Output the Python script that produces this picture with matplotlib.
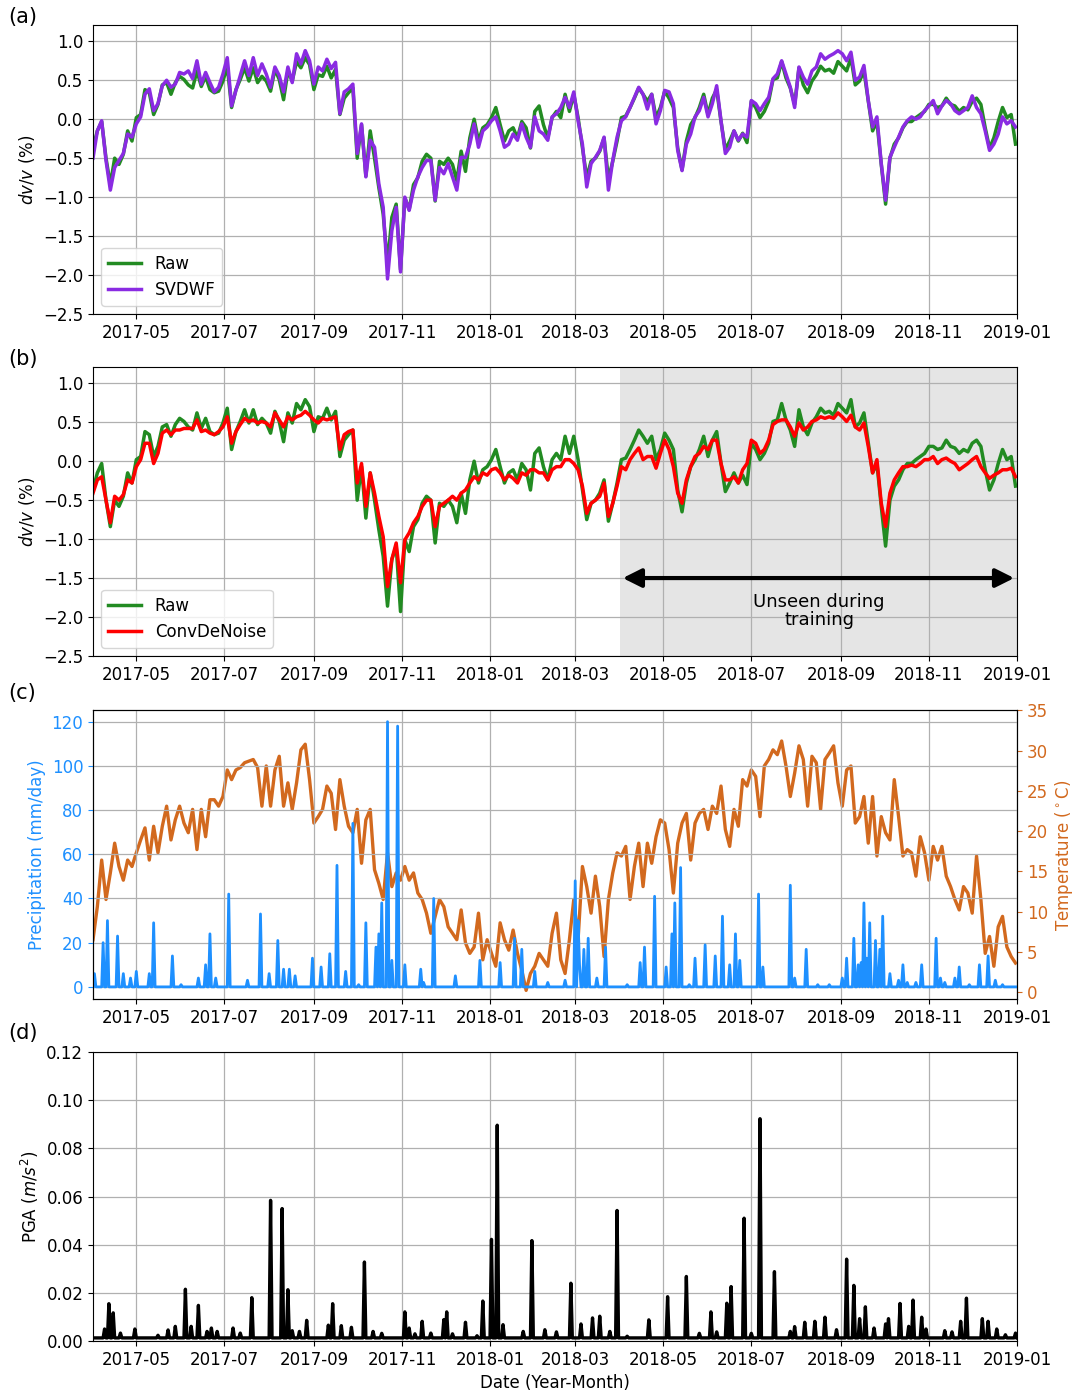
import numpy as np
import pandas as pd
import matplotlib
matplotlib.use('Agg')
import matplotlib.pyplot as plt
import matplotlib.dates as mdates

# time axis
start = pd.Timestamp('2017-04-01')
end = pd.Timestamp('2019-01-01')
unseen_start = pd.Timestamp('2018-04-01')

# dv/v (%) sampled every 3 days from 2017-04-01
raw = [
    -0.37, -0.15, -0.03, -0.5, -0.84, -0.5, -0.58, -0.45, -0.15, -0.28,
    0.02, 0.06, 0.38, 0.34, 0.06, 0.19, 0.44, 0.47, 0.32, 0.47,
    0.55, 0.51, 0.44, 0.4, 0.62, 0.42, 0.55, 0.38, 0.34, 0.36,
    0.49, 0.68, 0.15, 0.38, 0.51, 0.66, 0.49, 0.66, 0.47, 0.55,
    0.49, 0.36, 0.64, 0.51, 0.25, 0.62, 0.49, 0.74, 0.66, 0.79,
    0.7, 0.38, 0.57, 0.55, 0.68, 0.53, 0.64, 0.06, 0.27, 0.34,
    0.4, -0.5, -0.07, -0.73, -0.15, -0.5, -0.88, -1.22, -1.86, -1.26,
    -1.09, -1.93, -1.01, -1.16, -0.84, -0.75, -0.54, -0.45, -0.5, -1.05,
    -0.54, -0.58, -0.5, -0.58, -0.79, -0.41, -0.67, -0.24, 0.0, -0.28,
    -0.11, -0.07, 0.02, 0.15, -0.07, -0.28, -0.15, -0.11, -0.24, -0.03,
    -0.11, -0.37, 0.1, 0.17, -0.07, -0.24, 0.02, 0.1, 0.02, 0.32,
    0.1, 0.32, 0.02, -0.37, -0.75, -0.54, -0.5, -0.41, -0.24, -0.77,
    -0.54, -0.28, 0.02, 0.04, 0.15, 0.27, 0.4, 0.32, 0.23, 0.32,
    0.02, 0.15, 0.36, 0.27, 0.15, -0.37, -0.65, -0.28, -0.07, 0.02,
    0.15, 0.32, 0.06, 0.27, 0.38, -0.03, -0.39, -0.28, -0.15, -0.28,
    -0.18, -0.3, 0.23, 0.15, 0.02, 0.1, 0.23, 0.51, 0.53, 0.74,
    0.53, 0.4, 0.19, 0.66, 0.44, 0.34, 0.49, 0.57, 0.68, 0.62,
    0.64, 0.59, 0.74, 0.68, 0.62, 0.79, 0.44, 0.49, 0.62, 0.23,
    -0.15, -0.03, -0.58, -1.09, -0.5, -0.32, -0.24, -0.11, -0.03, -0.03,
    0.02, 0.06, 0.1, 0.19, 0.19, 0.15, 0.17, 0.27, 0.19, 0.17,
    0.1, 0.15, 0.12, 0.23, 0.27, 0.19, -0.11, -0.37, -0.24, -0.03,
    0.15, 0.02, 0.06, -0.32,
]
svdwf = [
    -0.5, -0.15, -0.02, -0.53, -0.91, -0.62, -0.53, -0.44, -0.19, -0.23,
    -0.06, 0.03, 0.32, 0.39, 0.11, 0.2, 0.43, 0.5, 0.41, 0.45,
    0.6, 0.58, 0.62, 0.52, 0.75, 0.45, 0.6, 0.47, 0.35, 0.41,
    0.58, 0.79, 0.17, 0.37, 0.56, 0.75, 0.56, 0.79, 0.56, 0.71,
    0.58, 0.41, 0.67, 0.56, 0.35, 0.67, 0.47, 0.84, 0.71, 0.88,
    0.75, 0.45, 0.67, 0.62, 0.77, 0.65, 0.73, 0.07, 0.35, 0.39,
    0.45, -0.44, -0.06, -0.74, -0.27, -0.36, -0.83, -1.13, -2.05, -1.43,
    -1.13, -1.96, -1.0, -1.17, -0.91, -0.74, -0.62, -0.53, -0.53, -1.04,
    -0.62, -0.7, -0.57, -0.74, -0.91, -0.49, -0.49, -0.32, -0.06, -0.36,
    -0.15, -0.1, -0.02, 0.03, -0.15, -0.36, -0.32, -0.19, -0.27, -0.06,
    -0.23, -0.36, 0.03, -0.15, -0.19, -0.27, 0.03, 0.07, 0.15, 0.28,
    0.15, 0.35, -0.02, -0.32, -0.87, -0.57, -0.49, -0.4, -0.23, -0.91,
    -0.53, -0.23, -0.02, 0.03, 0.15, 0.28, 0.41, 0.32, 0.13, 0.32,
    -0.06, 0.11, 0.37, 0.35, 0.2, -0.4, -0.66, -0.32, -0.19, 0.03,
    0.11, 0.28, 0.03, 0.2, 0.43, -0.02, -0.44, -0.36, -0.15, -0.27,
    -0.19, -0.23, 0.24, 0.2, 0.11, 0.2, 0.28, 0.52, 0.58, 0.75,
    0.58, 0.41, 0.15, 0.67, 0.54, 0.45, 0.62, 0.67, 0.84, 0.77,
    0.81, 0.84, 0.88, 0.84, 0.75, 0.86, 0.5, 0.54, 0.69, 0.24,
    -0.1, 0.03, -0.57, -1.04, -0.49, -0.36, -0.23, -0.1, -0.02, 0.03,
    0.0, 0.03, 0.11, 0.17, 0.24, 0.07, 0.17, 0.24, 0.2, 0.11,
    0.07, 0.11, 0.15, 0.3, 0.15, 0.07, -0.15, -0.4, -0.32, -0.19,
    0.03, -0.06, -0.02, -0.1,
]
convdenoise = [
    -0.41, -0.24, -0.2, -0.5, -0.79, -0.45, -0.5, -0.43, -0.24, -0.28,
    -0.07, 0.02, 0.23, 0.23, -0.03, 0.1, 0.36, 0.4, 0.34, 0.4,
    0.4, 0.42, 0.42, 0.42, 0.53, 0.38, 0.4, 0.36, 0.34, 0.38,
    0.44, 0.57, 0.23, 0.38, 0.47, 0.55, 0.51, 0.53, 0.49, 0.51,
    0.49, 0.44, 0.62, 0.53, 0.44, 0.57, 0.53, 0.57, 0.59, 0.64,
    0.59, 0.53, 0.49, 0.55, 0.53, 0.55, 0.57, 0.15, 0.34, 0.38,
    0.4, -0.28, -0.03, -0.58, -0.15, -0.41, -0.71, -0.97, -1.61, -1.26,
    -1.05, -1.56, -1.01, -0.92, -0.79, -0.71, -0.58, -0.5, -0.5, -0.84,
    -0.58, -0.54, -0.5, -0.45, -0.5, -0.41, -0.37, -0.28, -0.2, -0.24,
    -0.15, -0.18, -0.11, -0.09, -0.15, -0.24, -0.18, -0.22, -0.28, -0.15,
    -0.18, -0.11, -0.11, -0.15, -0.15, -0.24, -0.11, -0.07, -0.07, 0.02,
    0.02, -0.03, -0.11, -0.32, -0.67, -0.54, -0.5, -0.45, -0.28, -0.71,
    -0.54, -0.32, -0.07, -0.11, 0.02, 0.1, 0.17, 0.02, 0.06, 0.06,
    -0.09, 0.1, 0.27, 0.15, -0.07, -0.41, -0.54, -0.24, -0.07, 0.06,
    0.1, 0.19, 0.15, 0.27, 0.27, -0.03, -0.24, -0.24, -0.2, -0.28,
    -0.11, -0.03, 0.27, 0.23, 0.1, 0.15, 0.27, 0.47, 0.51, 0.53,
    0.53, 0.44, 0.32, 0.49, 0.4, 0.44, 0.51, 0.53, 0.57, 0.55,
    0.57, 0.55, 0.62, 0.57, 0.51, 0.59, 0.44, 0.4, 0.49, 0.19,
    -0.15, 0.02, -0.54, -0.84, -0.41, -0.24, -0.15, -0.07, -0.07, -0.05,
    -0.07, -0.03, 0.02, 0.02, 0.06, -0.03, 0.02, 0.04, 0.0, -0.03,
    -0.11, -0.07, -0.03, 0.02, 0.06, -0.07, -0.15, -0.22, -0.18, -0.15,
    -0.11, -0.11, -0.09, -0.2,
]
# air temperature (deg C), same 3-day sampling
temperature = [
    6.5, 10.6, 16.4, 11.5, 14.8, 18.5, 15.6, 13.9, 16.4, 15.6,
    17.3, 18.9, 20.4, 16.4, 20.6, 17.3, 20.6, 23.1, 18.9, 21.4,
    23.1, 21.0, 19.8, 22.7, 17.7, 22.7, 19.3, 23.9, 23.9, 23.1,
    24.3, 27.6, 26.4, 27.6, 27.9, 28.5, 28.7, 28.9, 27.9, 23.1,
    28.1, 23.1, 27.6, 29.3, 23.1, 26.0, 22.7, 26.0, 30.1, 30.8,
    26.4, 21.0, 21.8, 22.7, 25.6, 24.7, 20.2, 26.4, 23.1, 20.6,
    19.8, 22.7, 16.0, 21.4, 22.7, 15.2, 13.5, 11.5, 17.3, 13.1,
    14.8, 13.9, 15.6, 13.9, 14.8, 12.3, 11.5, 9.8, 7.3, 9.4,
    11.5, 10.6, 8.1, 7.3, 6.5, 10.2, 6.1, 4.8, 5.6, 9.8,
    4.0, 6.5, 4.8, 3.2, 8.6, 6.5, 5.2, 7.7, 4.8, 2.7,
    0.2, 2.3, 3.2, 4.8, 4.0, 3.2, 7.3, 9.8, 4.0, 2.3,
    6.5, 11.5, 6.5, 15.6, 13.1, 9.8, 14.4, 10.6, 4.4, 11.5,
    14.8, 17.3, 16.9, 18.1, 11.5, 15.6, 18.5, 13.1, 18.5, 16.0,
    19.3, 21.4, 21.0, 17.7, 12.3, 18.5, 21.0, 22.2, 16.4, 21.0,
    22.2, 22.7, 20.2, 23.1, 22.2, 25.6, 20.2, 18.1, 22.7, 20.6,
    26.4, 25.6, 27.6, 26.8, 21.8, 28.1, 28.9, 30.1, 29.5, 31.2,
    28.1, 24.3, 27.2, 30.6, 28.9, 23.1, 29.3, 28.5, 22.7, 28.9,
    29.7, 30.6, 26.0, 23.1, 27.6, 28.1, 21.0, 21.8, 24.3, 18.5,
    24.3, 16.9, 21.8, 19.8, 18.9, 26.4, 21.8, 16.9, 17.7, 17.3,
    14.4, 19.3, 17.3, 13.9, 18.1, 16.4, 18.1, 14.4, 13.1, 11.5,
    10.2, 13.1, 12.3, 9.8, 16.9, 11.5, 4.8, 6.9, 3.2, 8.1,
    9.4, 5.6, 4.4, 3.6,
]

# rainy days (days after 2017-04-01) and rainfall (mm/day)
rain_day = [1, 7, 10, 17, 21, 26, 30, 39, 42, 55, 61, 73, 78, 81, 85, 94, 107, 116,
            122, 128, 132, 136, 140, 152, 158, 164, 169, 175, 180, 184, 189, 196, 198,
            200, 204, 207, 211, 216, 227, 229, 236, 251, 268, 282, 292, 297, 306, 315,
            327, 334, 336, 337, 340, 343, 349, 355, 370, 379, 382, 389, 397, 401, 403,
            407, 413, 417, 424, 431, 436, 441, 445, 448, 461, 464, 483, 486, 494, 502,
            510, 519, 522, 527, 530, 532, 534, 536, 538, 542, 545, 547, 552, 558, 561,
            564, 570, 574, 584, 587, 590, 597, 600, 607, 614, 620, 625, 630]
rain_mm = [6, 20, 30, 23, 6, 4, 7, 6, 29, 14, 1, 4, 10, 24, 4, 42, 3, 33,
           6, 21, 8, 8, 5, 13, 9, 15, 55, 7, 74, 1, 29, 18, 24,
           38, 120, 12, 118, 10, 8, 2, 40, 5, 12, 11, 22, 17, 7, 2,
           3, 48, 30, 10, 17, 22, 4, 18, 1, 11, 18, 41, 9, 24, 38,
           54, 1, 13, 19, 14, 32, 10, 24, 12, 42, 9, 46, 4, 17, 1,
           1, 4, 13, 22, 10, 11, 38, 13, 29, 21, 17, 32, 6, 3, 10,
           2, 2, 10, 22, 4, 2, 4, 9, 1, 10, 14, 3, 1]

# peak ground acceleration (m/s^2): quiet level and event days
pga_floor = 0.0013
pga_day = [8, 11, 14, 19, 29, 45, 52, 57, 64, 68, 73, 79, 82, 86, 97, 102, 110, 123,
           131, 135, 138, 143, 148, 163, 166, 172, 179, 188, 194, 200, 216, 219, 223,
           228, 234, 243, 245, 249, 258, 266, 270, 276, 280, 284, 298, 304, 313, 321,
           331, 338, 346, 351, 358, 363, 370, 385, 398, 411, 420, 428, 432, 439, 442,
           451, 456, 462, 472, 483, 486, 493, 500, 507, 515, 522, 527, 531, 535, 541,
           549, 551, 559, 565, 568, 574, 577, 590, 595, 601, 605, 616, 620, 626, 632, 639]
pga_val = [0.005, 0.0155, 0.0117, 0.0033, 0.005, 0.0024, 0.0046, 0.0061, 0.0215,
           0.0061, 0.0148, 0.004, 0.0054, 0.004, 0.0054, 0.0033, 0.018, 0.0584,
           0.055, 0.0213, 0.0043, 0.004, 0.0086, 0.0066, 0.0155, 0.0064, 0.0057,
           0.0328, 0.004, 0.0032, 0.0121, 0.0054, 0.003, 0.0082, 0.0033, 0.0089,
           0.0121, 0.003, 0.0078, 0.0022, 0.0166, 0.0422, 0.0896, 0.0068, 0.004,
           0.0417, 0.0047, 0.0038, 0.024, 0.0071, 0.0096, 0.0103, 0.004, 0.0542,
           0.002, 0.0088, 0.0184, 0.0268, 0.0032, 0.0121, 0.0038, 0.0157, 0.0226,
           0.051, 0.0032, 0.0923, 0.0288, 0.004, 0.006, 0.0078, 0.0082, 0.0099,
           0.0047, 0.034, 0.0231, 0.0093, 0.0142, 0.0054, 0.0071, 0.0093, 0.0156,
           0.0061, 0.017, 0.0099, 0.005, 0.0043, 0.0038, 0.0082, 0.0178, 0.0093,
           0.0082, 0.005, 0.0026, 0.0033]

dvv_dates = pd.date_range(start, periods=len(raw), freq='3D')
days = pd.date_range(start, end, freq='D')
rain = np.zeros(len(days))
rain[rain_day] = rain_mm
pga = np.full(len(days), pga_floor)
pga[pga_day] = pga_val

plt.rcParams['font.size'] = 12

fig = plt.figure(figsize=(10.74, 13.93), dpi=100)
left, width, height = 0.0866, 0.8603, 0.2075
ax_a = fig.add_axes([left, 0.7746, width, height])
ax_b = fig.add_axes([left, 0.5291, width, height])
ax_c = fig.add_axes([left, 0.2825, width, height])
ax_d = fig.add_axes([left, 0.0373, width, height])


def date_axis(ax):
    ax.set_xlim(start, end)
    ax.xaxis.set_major_locator(mdates.MonthLocator(bymonth=[1, 3, 5, 7, 9, 11]))
    ax.xaxis.set_major_formatter(mdates.DateFormatter('%Y-%m'))
    ax.grid(True, color='#b0b0b0', lw=0.9)


# (a) Raw vs SVDWF
ax_a.plot(dvv_dates, raw, color='forestgreen', lw=2.5, label='Raw')
ax_a.plot(dvv_dates, svdwf, color='blueviolet', lw=2.5, label='SVDWF')
ax_a.set_ylim(-2.5, 1.21)
ax_a.set_yticks(np.arange(-2.5, 1.01, 0.5))
ax_a.set_ylabel('$dv/v$ (%)')
ax_a.legend(loc='lower left', fontsize=12)
date_axis(ax_a)

# (b) Raw vs ConvDeNoise
ax_b.axvspan(unseen_start, end, color='#e5e5e5', lw=0)
ax_b.plot(dvv_dates, raw, color='forestgreen', lw=2.5, label='Raw')
ax_b.plot(dvv_dates, convdenoise, color='red', lw=2.5, label='ConvDeNoise')
ax_b.set_ylim(-2.5, 1.21)
ax_b.set_yticks(np.arange(-2.5, 1.01, 0.5))
ax_b.set_ylabel('$dv/v$ (%)')
ax_b.legend(loc='lower left', fontsize=12)
date_axis(ax_b)
ax_b.annotate('', xy=(mdates.date2num(end), -1.5),
              xytext=(mdates.date2num(unseen_start), -1.5),
              arrowprops=dict(arrowstyle='<|-|>', color='k', lw=3, mutation_scale=28))
ax_b.text(mdates.date2num(pd.Timestamp('2018-08-17')), -1.92, 'Unseen during\ntraining',
          ha='center', va='center', fontsize=13, linespacing=1.0)

# (c) precipitation and temperature
ax_t = ax_c.twinx()
ax_t.plot(days[::3][:len(temperature)], temperature, color='chocolate', lw=2.4)
ax_t.set_ylim(-0.93, 35)
ax_t.set_yticks(np.arange(0, 36, 5))
ax_t.set_ylabel('Temperature ($^\\circ$C)', color='chocolate')
ax_t.tick_params(axis='y', colors='chocolate')
ax_c.plot(days, rain, color='dodgerblue', lw=2.0)
ax_c.set_ylim(-5.7, 125.1)
ax_c.set_yticks(np.arange(0, 121, 20))
ax_c.set_ylabel('Precipitation (mm/day)', color='dodgerblue')
ax_c.tick_params(axis='y', colors='dodgerblue')
ax_c.set_zorder(ax_t.get_zorder() + 1)
ax_c.patch.set_visible(False)
date_axis(ax_c)

# (d) PGA
ax_d.plot(days, pga, color='k', lw=2.4)
ax_d.set_ylim(0, 0.12)
ax_d.set_yticks(np.arange(0, 0.121, 0.02))
ax_d.yaxis.set_major_formatter(matplotlib.ticker.FormatStrFormatter('%.2f'))
ax_d.set_ylabel('PGA ($m/s^2$)')
ax_d.set_xlabel('Date (Year-Month)')
date_axis(ax_d)

for lab, y in zip(['(a)', '(b)', '(c)', '(d)'], [1376, 1034, 700, 360]):
    fig.text(8 / 1074, y / 1393, lab, fontsize=15, va='center', ha='left')

fig.savefig('out.png', dpi=100)
